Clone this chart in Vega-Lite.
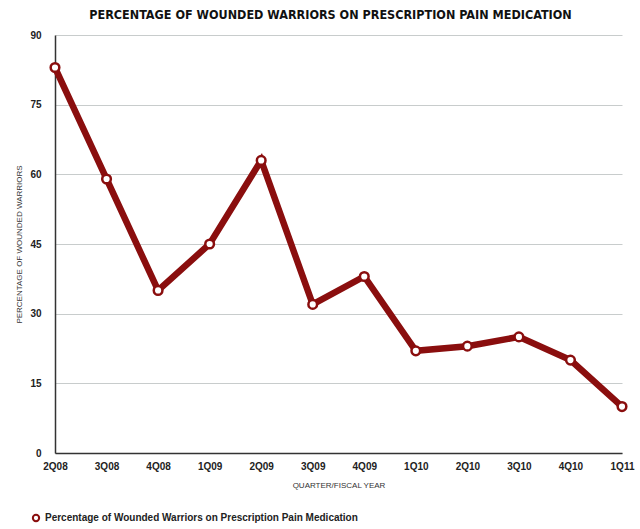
{
  "$schema": "https://vega.github.io/schema/vega-lite/v6.json",
  "width": 567,
  "height": 418,
  "autosize": "none",
  "padding": {"left": 55, "top": 35, "right": 18, "bottom": 76},
  "background": "white",
  "title": {
    "text": "PERCENTAGE OF WOUNDED WARRIORS ON PRESCRIPTION PAIN MEDICATION",
    "font": "DejaVu Sans Condensed, Liberation Sans",
    "fontSize": 12.5,
    "fontWeight": "bold",
    "color": "#111111",
    "anchor": "middle",
    "offset": 9,
    "dx": -8
  },
  "data": {
    "values": [
      {"q": "2Q08", "v": 83},
      {"q": "3Q08", "v": 59},
      {"q": "4Q08", "v": 35},
      {"q": "1Q09", "v": 45},
      {"q": "2Q09", "v": 63},
      {"q": "3Q09", "v": 32},
      {"q": "4Q09", "v": 38},
      {"q": "1Q10", "v": 22},
      {"q": "2Q10", "v": 23},
      {"q": "3Q10", "v": 25},
      {"q": "4Q10", "v": 20},
      {"q": "1Q11", "v": 10}
    ]
  },
  "encoding": {
    "x": {
      "field": "q",
      "type": "ordinal",
      "sort": null,
      "scale": {"type": "point", "padding": 0},
      "axis": {
        "title": "QUARTER/FISCAL YEAR",
        "titleFont": "Liberation Sans",
        "titleFontSize": 8,
        "titleFontWeight": "normal",
        "titleColor": "#333333",
        "titlePadding": 10,
        "labelAngle": 0,
        "labelFont": "Liberation Sans",
        "labelFontSize": 10,
        "labelFontWeight": "bold",
        "labelColor": "#222222",
        "labelPadding": 8,
        "ticks": false,
        "grid": false,
        "domainColor": "#333333",
        "domainWidth": 1.5
      }
    },
    "y": {
      "field": "v",
      "type": "quantitative",
      "scale": {"domain": [0, 90]},
      "axis": {
        "title": "PERCENTAGE OF WOUNDED WARRIORS",
        "titleFont": "Liberation Sans",
        "titleFontSize": 8,
        "titleFontWeight": "normal",
        "titleColor": "#333333",
        "titlePadding": 6,
        "values": [0, 15, 30, 45, 60, 75, 90],
        "labelFont": "Liberation Sans",
        "labelFontSize": 10,
        "labelFontWeight": "bold",
        "labelColor": "#222222",
        "labelPadding": 14,
        "ticks": false,
        "gridColor": "#c8cccc",
        "gridWidth": 1,
        "domainColor": "#333333",
        "domainWidth": 1.5
      }
    },
    "color": {
      "datum": "Percentage of Wounded Warriors on Prescription Pain Medication",
      "type": "nominal",
      "scale": {"range": ["#8a0e0e"]},
      "legend": {
        "title": null,
        "orient": "none",
        "legendX": -24,
        "legendY": 478,
        "symbolType": "circle",
        "symbolFillColor": "white",
        "symbolStrokeColor": "#8a0e0e",
        "symbolStrokeWidth": 2,
        "symbolSize": 40,
        "labelLimit": 500,
        "labelFont": "Liberation Sans",
        "labelFontSize": 10,
        "labelFontWeight": "bold",
        "labelColor": "#222222"
      }
    }
  },
  "layer": [
    {"mark": {"type": "line", "strokeWidth": 6.5, "strokeJoin": "miter"}},
    {"mark": {"type": "point", "filled": false, "fill": "white", "strokeWidth": 2.5, "size": 75, "opacity": 1}}
  ],
  "config": {"view": {"stroke": null}}
}
